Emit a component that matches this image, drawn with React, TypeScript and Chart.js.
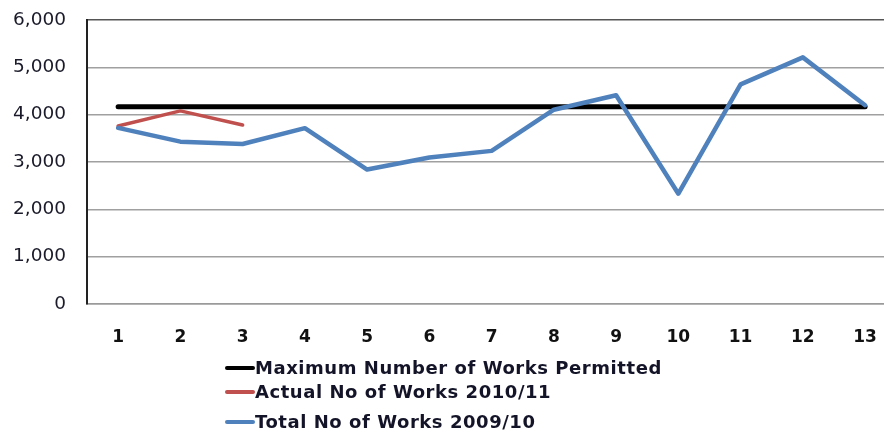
import React, { useEffect, useRef } from "react";
import { Chart, registerables } from "chart.js";

Chart.register(...registerables);

const periods = ["1", "2", "3", "4", "5", "6", "7", "8", "9", "10", "11", "12", "13"];
const maxPermitted = [4165, 4165, 4165, 4165, 4165, 4165, 4165, 4165, 4165, 4165, 4165, 4165, 4165];
const actual201011 = [3760, 4080, 3780, null, null, null, null, null, null, null, null, null, null];
const total200910 = [3720, 3430, 3380, 3715, 2840, 3095, 3235, 4105, 4410, 2330, 4640, 5210, 4200];
const yMin = 0;
const yMax = 6000;
const yStep = 1000;

const legendItems = [
  { label: "Maximum Number of Works Permitted", color: "#000000", top: 368 },
  { label: "Actual No of Works 2010/11", color: "#C0504D", top: 392 },
  { label: "Total No of Works 2009/10", color: "#4F81BD", top: 422 },
];

export default function App() {
  const ref = useRef<HTMLCanvasElement | null>(null);

  useEffect(() => {
    if (!ref.current) return;
    const chart = new Chart(ref.current, {
      type: "line",
      data: {
        labels: periods,
        datasets: [
          {
            label: "Total No of Works 2009/10",
            data: total200910,
            borderColor: "#4F81BD",
            borderWidth: 4.5,
            pointRadius: 0,
            tension: 0,
            borderJoinStyle: "round",
            borderCapStyle: "round",
          },
          {
            label: "Actual No of Works 2010/11",
            data: actual201011,
            borderColor: "#C0504D",
            borderWidth: 3.5,
            pointRadius: 0,
            tension: 0,
            spanGaps: false,
            borderJoinStyle: "round",
            borderCapStyle: "round",
          },
          {
            label: "Maximum Number of Works Permitted",
            data: maxPermitted,
            borderColor: "#000000",
            borderWidth: 5,
            pointRadius: 0,
            tension: 0,
            borderCapStyle: "round",
          },
        ],
      },
      options: {
        animation: false,
        responsive: false,
        events: [],
        layout: { padding: { top: 20, left: 0, right: 2, bottom: 0 } },
        plugins: { legend: { display: false }, tooltip: { enabled: false }, title: { display: false } },
        scales: {
          x: {
            type: "category",
            offset: true,
            grid: { display: false, drawTicks: false },
            border: { display: true, color: "#9a9a9a", width: 1.5 },
            ticks: {
              padding: 23,
              color: "#111111",
              font: { family: "DejaVu Sans", weight: "bold", size: 17 },
              maxRotation: 0,
            },
            afterFit: (s: any) => {
              s.height = 431 - 304;
            },
          },
          y: {
            min: yMin,
            max: yMax,
            grid: {
              drawTicks: true,
              tickLength: 21,
              tickColor: "rgba(0,0,0,0)",
              color: (ctx: any) => (ctx.tick && ctx.tick.value === yMax ? "#555555" : "#a0a0a0"),
              lineWidth: 1.5,
            },
            border: { display: true, color: "#222222", width: 2 },
            ticks: {
              stepSize: yStep,
              padding: 0,
              color: "#1a1a2a",
              font: { family: "DejaVu Sans", size: 18.5 },
              callback: (v: any) => Number(v).toLocaleString("en-US"),
            },
            afterFit: (s: any) => {
              s.width = 87;
            },
          },
        },
      },
    });
    return () => chart.destroy();
  }, []);

  return (
    <div
      style={{
        position: "absolute",
        left: 0,
        top: 0,
        width: 884,
        height: 431,
        overflow: "hidden",
        background: "#ffffff",
      }}
    >
      <canvas ref={ref} width={900} height={431} style={{ position: "absolute", left: 0, top: 0 }} />
      {legendItems.map((it) => (
        <div
          key={it.label}
          style={{
            position: "absolute",
            left: 225,
            top: it.top - 12,
            height: 24,
            display: "flex",
            alignItems: "center",
            whiteSpace: "nowrap",
          }}
        >
          <span style={{ display: "inline-block", width: 30, height: 3.5, background: it.color, borderRadius: 2 }} />
          <span
            style={{
              marginLeft: 0,
              fontFamily: "'DejaVu Sans'",
              fontWeight: "bold",
              fontSize: 18,
              letterSpacing: "0.55px",
              color: "#141428",
              lineHeight: "24px",
            }}
          >
            {it.label}
          </span>
        </div>
      ))}
    </div>
  );
}
